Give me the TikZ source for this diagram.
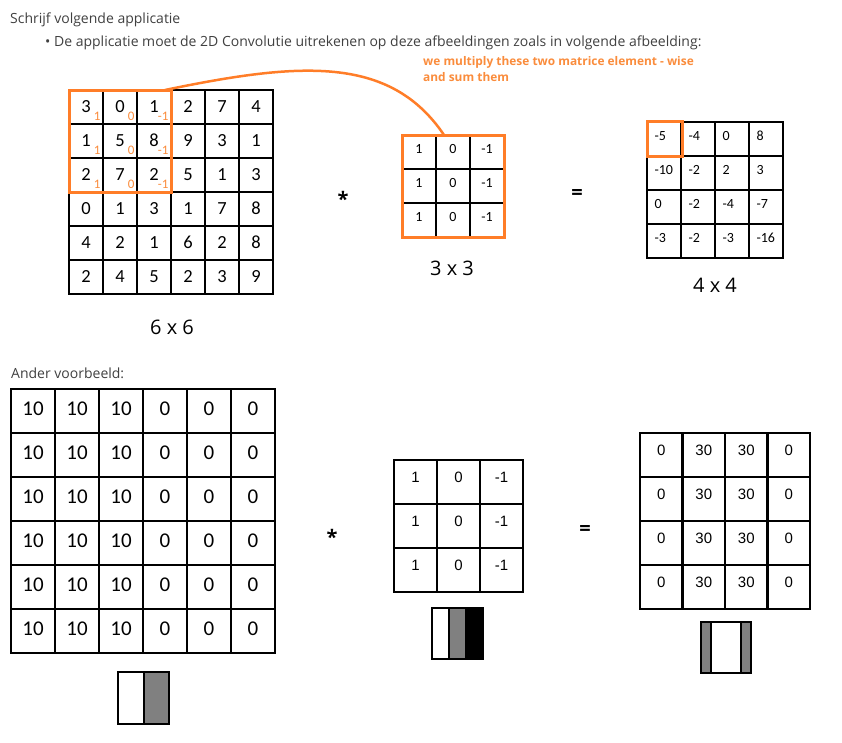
\documentclass[tikz,border=0pt]{standalone}
\usepackage{fontspec}
\setmainfont{Open Sans}
\newfontfamily\calibrifont{Carlito}
\newfontfamily\arialfont{Liberation Sans}
\definecolor{convorange}{RGB}{255,125,40}
\definecolor{noteorange}{RGB}{250,140,60}
\definecolor{txtgray}{RGB}{64,64,64}

\begin{document}
\begin{tikzpicture}[x=1pt,y=-1pt,
    hdr/.style={inner sep=0pt,text=txtgray,font=\fontsize{14}{16}\selectfont},
    dimlabel/.style={inner sep=0pt,font=\fontsize{20}{20}\selectfont},
    opsign/.style={inner sep=0pt,anchor=base,font=\bfseries\fontsize{20}{20}\selectfont},
    cellA/.style={rectangle,draw=black,line width=1.2pt,minimum size=34pt,inner sep=0pt,
      font=\calibrifont\fontsize{18.5}{18}\selectfont,text height=11.7pt,text depth=0pt},
    cellK/.style={cellA,font=\calibrifont\fontsize{14}{14}\selectfont,text height=8.8pt,text depth=6pt},
    cellR/.style={cellA,font=\calibrifont\fontsize{14}{14}\selectfont,text height=8.8pt,text depth=6pt,
      text width=19pt,inner xsep=7.5pt,align=left},
    wsub/.style={inner sep=0pt,anchor=south east,text=noteorange,font=\calibrifont\fontsize{13}{13}\selectfont},
    winbox/.style={rectangle,draw=convorange,line width=3pt,inner sep=0pt,outer sep=0pt},
    cellB/.style={rectangle,draw=black,line width=2.5pt,minimum size=44pt,inner sep=0pt,
      font=\calibrifont\fontsize{21}{21}\selectfont,text height=13.3pt,text depth=4pt},
    cellC/.style={cellB,minimum width=43pt,font=\arialfont\fontsize{15}{15}\selectfont,text height=10.7pt,text depth=10pt},
    cellD/.style={cellC,minimum width=42.5pt},
    barline/.style={draw=black,line width=2pt}]
  \useasboundingbox (0,0) rectangle (842,742);

  % title and task
  \node[hdr,anchor=base west] (title) at (10,23.5) {Schrijf volgende applicatie};
  \node[hdr,anchor=base west] (task) at (45,46.5) {• De applicatie moet de 2D Convolutie uitrekenen op deze afbeeldingen zoals in volgende afbeelding:};

  % input image 6 x 6
  \foreach \row [count=\r from 0] in {{3,0,1,2,7,4},{1,5,8,9,3,1},{2,7,2,5,1,3},{0,1,3,1,7,8},{4,2,1,6,2,8},{2,4,5,2,3,9}}
    \foreach \v [count=\c from 0] in \row
      \node[cellA] (in-\r-\c) at (86+34*\c,107+34*\r) {\v};
  % kernel weights under the window
  \foreach \s [count=\c from 0] in {1,0,-1}
    \foreach \r in {0,1,2}
      \node[wsub] (ws-\r-\c) at ([xshift=-3pt,yshift=4pt]in-\r-\c.south east) {\s};
  \node[winbox,minimum size=102pt] (win) at (120,141) {};
  \node[dimlabel] (in-dim) at (172,327) {6 x 6};

  % kernel 3 x 3
  \foreach \r in {0,1,2}
    \foreach \v [count=\c from 0] in {1,0,-1}
      \node[cellK] (k-\r-\c) at (419+34*\c,152+34*\r) {\v};
  \node[winbox,minimum size=102pt] (kbox) at (453,186) {};
  \node[dimlabel] (k-dim) at (452,268) {3 x 3};

  % note on the window
  \node[inner sep=0pt,anchor=base west,align=left,text=noteorange,font=\bfseries\fontsize{11.9}{15.6}\selectfont] (note) at (423,81.5)
    {we multiply these two matrice element - wise\\and sum them};
  \draw[convorange,line width=2.5pt] ([xshift=-6pt]win.north east) .. controls (300,62) and (390,55) .. ([xshift=-9pt]kbox.north);

  % result 4 x 4
  \foreach \row [count=\r from 0] in {{-5,-4,0,8},{-10,-2,2,3},{0,-2,-4,-7},{-3,-2,-3,-16}}
    \foreach \v [count=\c from 0] in \row
      \node[cellR] (out-\r-\c) at (664+34*\c,139+34*\r) {\v};
  \node[winbox,minimum size=35pt] (osel) at (665,139) {};
  \node[dimlabel] (out-dim) at (715,285) {4 x 4};

  % operators
  \node[opsign] (mul-a) at (343,206) {*};
  \node[opsign] (eq-a) at (577,199) {=};

  % second example
  \node[hdr,anchor=base west] (other) at (11,378.5) {Ander voorbeeld:};
  \foreach \r in {0,...,5}
    \foreach \v [count=\c from 0] in {10,10,10,0,0,0}
      \node[cellB] (b-\r-\c) at (33+44*\c,411+44*\r) {\v};
  \foreach \r in {0,1,2}
    \foreach \v [count=\c from 0] in {1,0,-1}
      \node[cellC] (bk-\r-\c) at (415.5+43*\c,482+44*\r) {\v};
  \foreach \r in {0,...,3}
    \foreach \v [count=\c from 0] in {0,30,30,0}
      \node[cellD] (bo-\r-\c) at (661.25+42.5*\c,455+44*\r) {\v};
  \node[opsign] (mul-b) at (332,544) {*};
  \node[opsign] (eq-b) at (585,535) {=};

  % grey value bars
  \draw[barline,line width=2.5pt,fill=white] (118,672) rectangle (144,724);
  \draw[barline,line width=2.5pt,fill=gray] (144,672) rectangle (169,724);
  \draw[barline,fill=white] (432,608) rectangle (449,659);
  \draw[barline,fill=gray] (449,608) rectangle (466,659);
  \draw[barline,fill=black] (466,608) rectangle (483,659);
  \draw[barline,line width=1.5pt,fill=gray] (701,622) rectangle (711,673);
  \draw[barline,line width=1.5pt,fill=white] (711,622) rectangle (741,673);
  \draw[barline,line width=1.5pt,fill=gray] (741,622) rectangle (751,673);
\end{tikzpicture}
\end{document}
